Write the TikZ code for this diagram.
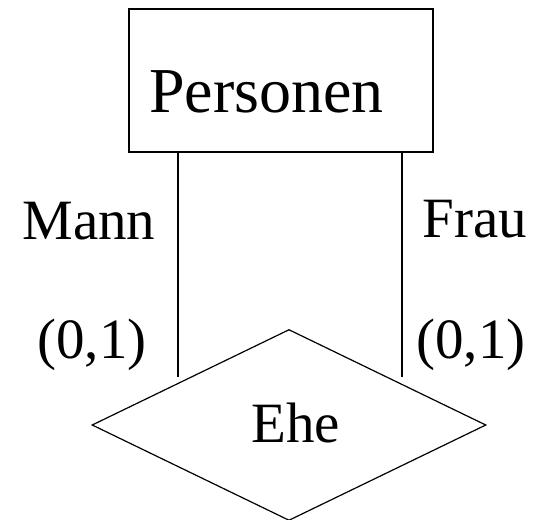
\documentclass[tikz,border=0pt]{standalone}
\usepackage{fontspec}
\setmainfont{Liberation Serif}
\usetikzlibrary{shapes.geometric}
\tikzset{
  entity/.style={draw, line width=1.2pt, minimum width=304pt, minimum height=143pt, inner sep=0},
  relship/.style={draw, shape=diamond, line width=1.2pt, minimum width=394pt, minimum height=191pt, inner sep=0},
  bigtext/.style={inner sep=0, font=\fontsize{64}{70}\selectfont},
  lbltext/.style={inner sep=0, font=\fontsize{57}{62}\selectfont},
}
\begin{document}
\begin{tikzpicture}[x=1pt,y=-1pt]
      \useasboundingbox (0,0) rectangle (535,519);
      % entity and relationship
      \node[entity] (pers) at (281,80.5) {};
      \node[bigtext, anchor=base west] (perstxt) at (149,112) {Personen};
      \node[relship] (ehe) at (289,425) {};
      \node[lbltext, anchor=base west] (ehetxt) at (251,442) {Ehe};
      % roles
      \coordinate (mannend) at (178,377);
      \coordinate (frauend) at (402,377);
      \draw[line width=1.2pt] (pers.south -| mannend) -- (mannend);
      \draw[line width=1.2pt] (pers.south -| frauend) -- (frauend);
      % labels
      \node[lbltext, anchor=base] (mann) at (89,239) {Mann};
      \node[lbltext, anchor=base] (frau) at (475,237) {Frau};
      \node[lbltext, anchor=base] (mannkard) at (92,358) {(0,1)};
      \node[lbltext, anchor=base] (fraukard) at (471,358) {(0,1)};
\end{tikzpicture}
\end{document}
